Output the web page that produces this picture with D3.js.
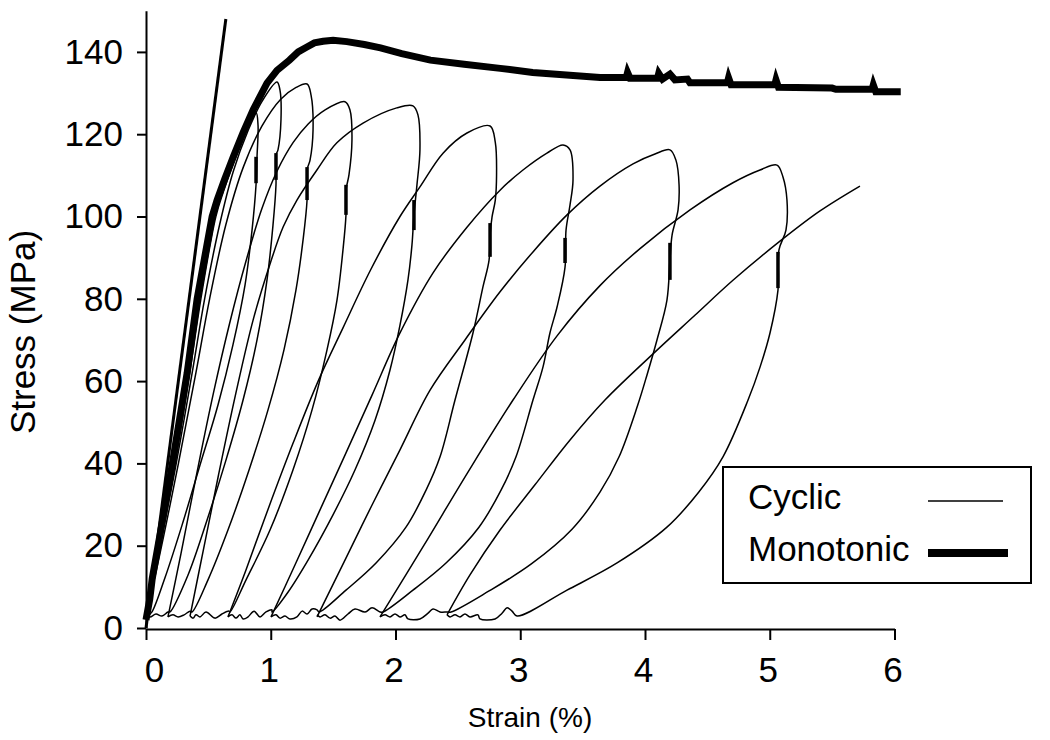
<!DOCTYPE html>
<html>
<head>
<meta charset="utf-8">
<script src="https://cdn.jsdelivr.net/npm/d3@7"></script>
<style>
	body { margin: 0; background: #fff; }
	svg text { font-family: "Liberation Sans", Arial, sans-serif; fill: #000; }
</style>
</head>
<body>
<svg id="chart" width="1050" height="740"></svg>
<script>
// 축 눈금
const xTicks = [0, 1, 2, 3, 4, 5, 6];
const yTicks = [0, 20, 40, 60, 80, 100, 120, 140];

// [strain %, stress MPa]
const elastic = [[0, 0], [0.64, 148]];

const monotonic = [
	[0.00, 2], [0.03, 7], [0.05, 12], [0.12, 24], [0.19, 36], [0.26, 49], [0.33, 62], [0.41, 80],
	[0.47, 90], [0.53, 100], [0.57, 104], [0.63, 109], [0.70, 114.5], [0.78, 120.5], [0.86, 126],
	[0.92, 129.5], [0.97, 132.4], [1.05, 135.5], [1.15, 138], [1.22, 140], [1.29, 141.2], [1.35, 142.2],
	[1.42, 142.6], [1.50, 142.8], [1.61, 142.5], [1.75, 141.8], [1.88, 141], [2.05, 139.6], [2.28, 138],
	[2.55, 137], [2.84, 136], [3.10, 135], [3.64, 133.8], [3.85, 133.8], [3.86, 135.0], [3.88, 133.6],
	[4.10, 133.6], [4.11, 134.8], [4.14, 133.4], [4.20, 134.6], [4.24, 133.2], [4.34, 133.4], [4.36, 132.5],
	[4.66, 132.5], [4.67, 133.7], [4.69, 132.0], [5.04, 132.0], [5.05, 133.2], [5.07, 131.4], [5.50, 131.2],
	[5.53, 130.9], [5.82, 130.9], [5.83, 132.0], [5.85, 130.3], [6.05, 130.3]
];

// 사이클: 재하 -> 제하 -> 바닥 회복
const cycle1 = [
	[0, 2.7], [0.06, 13], [0.21, 36], [0.35, 62], [0.44, 80], [0.56, 100], [0.62, 106], [0.74, 116], [0.882, 125.2],
	[0.898, 122.2], [0.890, 114.5], [0.882, 107.7], [0.850, 96.7], [0.794, 83.4], [0.697, 68.8], [0.577, 54.2],
	[0.433, 39.6], [0.289, 25.0], [0.152, 12.2], [0.048, 3.9],
	[0.024, 3.2], [0, 2.7]
];
const cycle2 = [
	[0, 2.7], [0.072, 14], [0.23, 38], [0.37, 62], [0.47, 80], [0.59, 98], [0.70, 111], [0.82, 121], [0.93, 128], [1.05, 132.7],
	[1.074, 130.7], [1.082, 123.5], [1.058, 116.2], [1.042, 114.9], [1.042, 107.7], [1.018, 97.9], [0.970, 84.6],
	[0.890, 70.0], [0.778, 55.4], [0.641, 40.8], [0.489, 26.2], [0.337, 12.9], [0.192, 3.9],
	[0.176, 3.9], [0.128, 2.9], [0.080, 3.4], [0.032, 2.7], [0, 3.2]
];
const cycle3 = [
	[0, 3.2], [0.09, 15], [0.26, 40], [0.40, 62], [0.51, 80], [0.64, 98], [0.78, 112], [0.93, 122], [1.08, 128.5], [1.20, 131.3], [1.291, 132.2],
	[1.323, 129.5], [1.339, 121.0], [1.315, 113.7], [1.291, 111.3], [1.291, 104.0], [1.259, 94.3], [1.202, 82.1],
	[1.106, 67.6], [0.978, 53.0], [0.826, 38.4], [0.657, 23.8], [0.497, 11.7], [0.369, 3.9],
	[0.353, 4.1], [0.305, 3.2], [0.257, 2.7], [0.216, 3.2], [0.176, 2.7]
];
const cycle4 = [
	[0.176, 2.7], [0.28, 18], [0.41, 38], [0.54, 57], [0.67, 74], [0.80, 89], [0.93, 102], [1.05, 111], [1.18, 118], [1.30, 122.5], [1.43, 125.8], [1.595, 127.9],
	[1.635, 125.9], [1.651, 118.6], [1.627, 110.1], [1.603, 106.4], [1.603, 100.4], [1.579, 91.9], [1.531, 79.7],
	[1.451, 67.6], [1.331, 53.0], [1.178, 38.4], [0.994, 23.8], [0.802, 11.7], [0.673, 3.9],
	[0.665, 4.1], [0.609, 3.4], [0.553, 2.4], [0.481, 3.9], [0.433, 2.7], [0.401, 3.2], [0.377, 2.4], [0.353, 2.9]
];
const cycle5 = [
	[0.353, 2.9], [0.46, 19], [0.58, 37], [0.72, 57], [0.86, 75], [1.00, 89], [1.10, 97.5], [1.21, 104], [1.37, 111.3], [1.53, 117.9], [1.74, 122.7], [2.01, 126.4], [2.14, 126.9],
	[2.180, 124.7], [2.196, 116.2], [2.172, 107.7], [2.148, 100.4], [2.132, 93.1], [2.100, 84.6], [2.036, 73.6],
	[1.956, 62.7], [1.836, 50.5], [1.675, 38.4], [1.499, 27.5], [1.299, 16.5], [1.138, 8.7], [1.010, 3.9],
	[1.010, 4.4], [0.962, 3.9], [0.914, 2.7], [0.866, 4.1], [0.818, 2.7], [0.778, 2.2], [0.753, 3.2], [0.721, 2.4], [0.689, 3.2], [0.657, 2.7]
];
const cycle6 = [
	[0.657, 2.7], [0.80, 14], [0.98, 29], [1.18, 45], [1.38, 60], [1.58, 73], [1.80, 87], [2.036, 100], [2.196, 107.2], [2.381, 115.4], [2.573, 120.3], [2.758, 122],
	[2.800, 118], [2.810, 110], [2.800, 104], [2.774, 99.9], [2.758, 95.5], [2.750, 89.4], [2.701, 82.9], [2.621, 71.7],
	[2.477, 55.4], [2.357, 41.6], [2.245, 33.5], [2.084, 24.5], [1.844, 15.8], [1.603, 9.2], [1.387, 3.9],
	[1.371, 4.4], [1.331, 4.6], [1.291, 3.4], [1.251, 4.1], [1.210, 2.7], [1.154, 2.2], [1.114, 2.9], [1.074, 2.4], [1.042, 3.2], [1.002, 2.7]
];
const cycle7 = [
	[1.002, 2.7], [1.194, 15.3], [1.395, 28.7], [1.595, 42.0], [1.812, 56.6], [2.036, 71.7], [2.301, 86.3], [2.573, 97.4], [2.838, 106.4], [3.022, 111.3], [3.214, 115.4], [3.343, 117.4],
	[3.399, 116.2], [3.423, 108.9], [3.399, 102.8], [3.367, 96.7], [3.359, 87.7], [3.295, 78.0], [3.238, 71.7], [3.182, 63.4],
	[3.102, 55.4], [2.966, 41.6], [2.846, 33.5], [2.669, 24.5], [2.405, 15.8], [2.140, 9.2], [1.900, 3.9],
	[1.876, 3.9], [1.812, 4.9], [1.756, 3.9], [1.675, 4.6], [1.619, 3.4], [1.555, 1.9], [1.515, 2.9], [1.475, 2.4], [1.435, 3.2], [1.395, 2.7], [1.371, 3.2]
];
const cycle8 = [
	[1.371, 2.7], [1.595, 16.5], [1.812, 29.9], [2.036, 43.3], [2.277, 57.8], [2.557, 70.0], [2.838, 81.7], [3.102, 91.4], [3.375, 100.4], [3.639, 107.4], [3.904, 112.8], [4.080, 115.2], [4.200, 116.2],
	[4.248, 113.7], [4.273, 107.7], [4.265, 101.6], [4.217, 95.5], [4.200, 89.4], [4.176, 79.7], [4.096, 70.0], [4.016, 61.5],
	[3.940, 54.0], [3.792, 41.6], [3.639, 33.0], [3.415, 24.0], [3.086, 15.5], [2.750, 9.0], [2.445, 3.9],
	[2.413, 3.9], [2.357, 3.9], [2.301, 4.6], [2.261, 3.6], [2.196, 2.2], [2.100, 2.2], [2.076, 3.2], [2.036, 2.7], [1.996, 3.4], [1.956, 2.7], [1.916, 3.2], [1.876, 2.7]
];
const cycle9 = [
	[1.876, 2.7], [2.220, 19.7], [2.581, 37.9], [2.942, 55.4], [3.295, 71.0], [3.639, 83.2], [3.960, 92.2], [4.361, 101.6], [4.705, 108.2], [4.922, 111.3], [5.058, 112.5],
	[5.106, 109.6], [5.138, 104.0], [5.130, 96.7], [5.074, 91.9], [5.066, 82.1], [5.002, 71.7], [4.922, 63.4],
	[4.826, 55.4], [4.625, 41.6], [4.430, 33.0], [4.176, 24.5], [3.776, 15.8], [3.375, 9.2], [2.974, 2.9],
	[2.934, 4.1], [2.894, 4.9], [2.854, 3.6], [2.798, 2.2], [2.677, 2.2], [2.661, 3.2], [2.597, 2.7], [2.557, 3.4], [2.517, 2.7], [2.477, 3.2], [2.437, 2.7], [2.413, 3.2]
];
const loadFinal = [
	[2.413, 3.2], [2.597, 12.9], [2.838, 23.8], [3.118, 34.8], [3.399, 45.7], [3.679, 55.4], [4.060, 66.5],
	[4.400, 76.0], [4.705, 84.5], [5.082, 94.0], [5.400, 101.3], [5.723, 107.4]
];

// 제하 중 유지 구간 표시 [strain, stress 아래, stress 위]
const holdMarks = [
	[0.882, 108.1, 114.5], [1.042, 108.9, 115.4], [1.291, 104.0, 112.0], [1.603, 100.4, 107.7], [2.148, 96.7, 104.0],
	[2.758, 90.2, 98.4], [3.359, 88.7, 94.8], [4.200, 84.6, 93.6], [5.066, 82.6, 91.4]
];

const cycles = [cycle1, cycle2, cycle3, cycle4, cycle5, cycle6, cycle7, cycle8, cycle9, loadFinal];

const svg = d3.select("#chart");
const fontFamily = '"Liberation Sans", Arial, sans-serif';

const x = d3.scaleLinear().domain([0, 6]).range([146, 894.5]);
const y = d3.scaleLinear().domain([0, 150]).range([628, 10.75]);

const line = d3.line()
	.x(d => x(d[0]))
	.y(d => y(d[1]));

const smoothLine = d3.line()
	.x(d => x(d[0]))
	.y(d => y(d[1]))
	.curve(d3.curveCatmullRom.alpha(0.5));

const plot = svg.append("g");

// 반복 하중 곡선
plot.selectAll(".cyclic")
	.data(cycles)
	.join("path")
	.attr("class", "cyclic")
	.attr("fill", "none")
	.attr("stroke", "#000")
	.attr("stroke-width", 1.5)
	.attr("stroke-linejoin", "round")
	.attr("d", smoothLine);

plot.selectAll(".hold")
	.data(holdMarks)
	.join("line")
	.attr("class", "hold")
	.attr("x1", d => x(d[0]))
	.attr("x2", d => x(d[0]))
	.attr("y1", d => y(d[1]))
	.attr("y2", d => y(d[2]))
	.attr("stroke", "#000")
	.attr("stroke-width", 3.5);

// 단조 하중 곡선
plot.append("path")
	.datum(monotonic)
	.attr("fill", "none")
	.attr("stroke", "#000")
	.attr("stroke-width", 7)
	.attr("d", line);

plot.append("path")
	.datum(elastic)
	.attr("fill", "none")
	.attr("stroke", "#000")
	.attr("stroke-width", 3)
	.attr("d", line);

// 축
const xAxis = svg.append("g")
	.attr("transform", "translate(0,629)")
	.call(d3.axisBottom(x).tickValues(xTicks).tickFormat(d3.format("d"))
		.tickSize(11).tickPadding(17).tickSizeOuter(0));

const yAxis = svg.append("g")
	.attr("transform", "translate(146,0)")
	.call(d3.axisLeft(y).tickValues(yTicks).tickFormat(d3.format("d"))
		.tickSize(9).tickPadding(14).tickSizeOuter(0));

[xAxis, yAxis].forEach(g => {
	g.attr("font-family", fontFamily).attr("font-size", 35);
	g.selectAll("path, line").attr("stroke", "#000").attr("stroke-width", 2);
	g.selectAll("text").attr("fill", "#000");
});
xAxis.selectAll(".tick text").attr("dx", d => d === 0 ? 8 : -2);

svg.append("text")
	.attr("x", 530)
	.attr("y", 727)
	.attr("text-anchor", "middle")
	.style("font-size", "28px")
	.text("Strain (%)");

svg.append("text")
	.attr("transform", "translate(35,332) rotate(-90)")
	.attr("text-anchor", "middle")
	.style("font-size", "35px")
	.text("Stress (MPa)");

// 범례
const legend = svg.append("g");
legend.append("rect")
	.attr("x", 723).attr("y", 467)
	.attr("width", 308).attr("height", 116)
	.attr("fill", "#fff")
	.attr("stroke", "#000")
	.attr("stroke-width", 2);

const legendItems = [
	{ label: "Cyclic", width: 1.5, x2: 1003, y: 501, ty: 509 },
	{ label: "Monotonic", width: 8, x2: 1008, y: 553, ty: 561 }
];
legendItems.forEach(d => {
	legend.append("text")
		.attr("x", 748)
		.attr("y", d.ty)
		.style("font-size", "35px")
		.text(d.label);
	legend.append("line")
		.attr("x1", 928).attr("x2", d.x2)
		.attr("y1", d.y).attr("y2", d.y)
		.attr("stroke", "#000")
		.attr("stroke-width", d.width);
});
</script>
</body>
</html>
